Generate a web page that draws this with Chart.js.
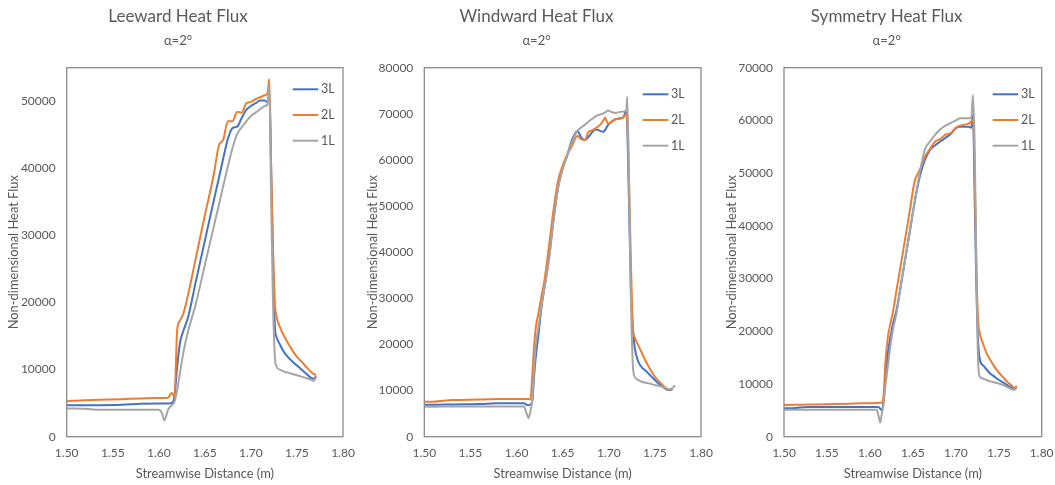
<!DOCTYPE html>
<html>
<head>
<meta charset="utf-8">
<title>Heat Flux, α=2°</title>
<script src="https://cdn.jsdelivr.net/npm/chart.js@4.4.1/dist/chart.umd.min.js"></script>
<style>
  html, body { margin: 0; padding: 0; background: #fff; }
  #wrap { position: relative; width: 1055px; height: 485px; overflow: hidden; }
  #wrap canvas { position: absolute; top: 0; }
</style>
</head>
<body>
<div id="wrap">
  <canvas id="leeward" width="372" height="485" style="left:0"></canvas>
  <canvas id="windward" width="372" height="485" style="left:350px"></canvas>
  <canvas id="symmetry" width="350" height="485" style="left:705px"></canvas>
</div>
<script>
// streamwise stations (m) and heat flux for the 3 grid levels
const leewardX = [1.500,1.520,1.535,1.560,1.580,1.600,1.604,1.606,1.610,1.614,1.617,1.620,1.623,1.627,1.632,1.640,1.650,1.660,1.665,1.670,1.675,1.680,1.685,1.690,1.695,1.700,1.705,1.710,1.715,1.718,1.720,1.722,1.724,1.726,1.728,1.732,1.736,1.740,1.745,1.750,1.755,1.760,1.765,1.768,1.771];
const leeward3L = [4700,4700,4700,4750,4900,4950,4950,4950,4950,5050,6000,10500,14000,15900,17900,23000,29200,35400,38400,41500,44400,46000,46200,47500,48700,49300,49700,50100,50100,49900,51500,40000,27000,16500,14800,13600,12600,11900,11200,10600,10000,9400,8800,8650,9000];
const leeward2L = [5300,5450,5500,5600,5700,5750,5750,5750,5800,6500,6000,16000,17300,18500,21300,26500,33000,39300,43300,44300,47000,47000,48400,48300,49700,49900,50300,50600,50900,51200,53300,40000,28000,20000,17800,16200,15000,14000,12900,11900,11200,10400,9700,9350,9200];
const leeward1L = [4200,4150,4000,4000,4000,4000,3300,2400,4000,4700,5200,7000,9500,12800,15800,19700,25600,31500,34400,37400,40300,43000,45100,46100,47000,47800,48300,48800,49300,49500,52500,35000,20000,12000,10400,9950,9700,9550,9350,9150,8950,8750,8500,8300,8900];
const leewardYTicks = [0,10000,20000,30000,40000,50000];

const windwardX = [1.500,1.510,1.530,1.560,1.580,1.600,1.608,1.611,1.613,1.615,1.617,1.619,1.621,1.624,1.627,1.630,1.635,1.640,1.645,1.650,1.655,1.660,1.666,1.670,1.674,1.678,1.682,1.686,1.690,1.694,1.696,1.699,1.703,1.707,1.712,1.716,1.719,1.720,1.722,1.724,1.726,1.728,1.732,1.736,1.740,1.745,1.750,1.755,1.760,1.765,1.769,1.772];
const windward3L = [6900,6900,7000,7100,7250,7250,7250,6900,6800,7000,7600,13000,17500,22500,28000,32000,38500,47000,54000,58200,61000,64300,66300,64900,64300,65000,66000,66600,66350,66100,66500,67500,68300,68800,69000,69300,70800,68000,50000,32000,24000,19500,16300,15000,14300,13300,12300,11300,10600,10100,10200,null];
const windward2L = [7600,7600,7950,8050,8150,8150,8150,8150,8150,8100,13000,19500,23800,27000,30500,33500,41000,49000,55500,58800,61200,63000,65200,64500,64300,66100,66400,66900,67500,68500,69200,67900,68200,68800,69000,69200,70000,69000,55000,38000,24000,21600,19800,18100,16400,14600,13000,11900,10900,10200,10400,null];
const windward1L = [6500,6500,6550,6550,6550,6550,6550,5000,4000,5500,8000,14500,20000,24000,28500,32000,38000,46500,53800,58000,61000,63800,66300,67000,67600,68300,68900,69500,69800,70100,70300,70700,70400,70200,70400,70500,70600,73700,55000,30000,16000,13000,12300,11900,11700,11500,11200,11000,10700,10300,10500,11200];
const windwardYTicks = [0,10000,20000,30000,40000,50000,60000,70000,80000];

const symmetryX = [1.500,1.510,1.527,1.560,1.590,1.608,1.610,1.612,1.614,1.616,1.618,1.621,1.624,1.627,1.631,1.636,1.641,1.646,1.652,1.658,1.664,1.670,1.676,1.682,1.688,1.694,1.700,1.705,1.710,1.715,1.718,1.720,1.722,1.724,1.726,1.728,1.732,1.736,1.740,1.745,1.750,1.755,1.760,1.765,1.768,1.771];
const symmetry3L = [5400,5400,5650,5650,5650,5650,5600,5300,5000,7000,11000,16000,19000,21500,24000,28700,33600,38500,44400,49300,52500,54400,55300,56000,56700,57400,58500,58800,58800,58800,58600,61000,45000,28000,18000,14600,13500,12700,12000,11400,10800,10300,9800,9300,9150,9300];
const symmetry2L = [6000,6050,6100,6200,6350,6400,6400,6450,6450,8000,14000,19000,21500,23800,27800,32600,37500,42400,48400,50600,53100,54600,56000,56500,57300,57600,58600,59000,59200,59400,59800,60200,50000,32000,22000,19600,17500,15800,14600,13300,12200,11300,10400,9700,9300,9600];
const symmetry1L = [5100,5100,5100,5100,5100,5100,4000,2700,4500,6300,9500,13500,17400,20500,23400,28700,33600,38500,44400,50000,54500,56000,57300,58300,59000,59500,60000,60400,60400,60400,60400,64800,55000,32000,14000,11400,11000,10750,10500,10300,10100,9800,9400,9000,8900,9300];
const symmetryYTicks = [0,10000,20000,30000,40000,50000,60000,70000];

const xTickValues = [1.50,1.55,1.60,1.65,1.70,1.75,1.80];
const subtitleText = "α=2°";

const textGrey = "#595959";
const lineColours = { "3L": "#4472C4", "2L": "#ED7D31", "1L": "#A5A5A5" };
const fontFamily = "Lato, 'Liberation Sans', sans-serif";

Chart.defaults.font.family = fontFamily;
Chart.defaults.color = textGrey;

// headings, plot frame and the little key in the upper right corner
const frameAndKey = {
  id: "frameAndKey",
  afterDraw(chart, args, opts) {
    const { ctx, chartArea: a } = chart;
    ctx.save();
    ctx.fillStyle = textGrey;
    ctx.textAlign = "center";
    ctx.textBaseline = "middle";
    ctx.font = "17px " + fontFamily;
    ctx.fillText(opts.title, opts.titleX, 17);
    ctx.font = "13px " + fontFamily;
    ctx.fillText(subtitleText, opts.titleX, 41);

    ctx.strokeStyle = "#8a8a8a";
    ctx.lineWidth = 1.3;
    ctx.strokeRect(a.left, a.top, a.right - a.left, a.bottom - a.top);

    ctx.font = "12.5px " + fontFamily;
    ctx.textAlign = "left";
    chart.data.datasets.forEach((ds, i) => {
      const y = a.top + opts.top + i * 25.7;
      const x0 = a.right - opts.right;
      ctx.strokeStyle = ds.borderColor;
      ctx.lineWidth = 2;
      ctx.beginPath();
      ctx.moveTo(x0, y);
      ctx.lineTo(x0 + 25.6, y);
      ctx.stroke();
      ctx.fillStyle = textGrey;
      ctx.fillText(ds.label, x0 + 28.3, y);
    });
    ctx.restore();
  },
};

function toPoints(xs, ys) {
  return xs.map((x, i) => ({ x: x, y: ys[i] }));
}

function makeChart(id, cfg) {
  const canvas = document.getElementById(id);
  const names = ["3L", "2L", "1L"];
  const datasets = names.map((name, i) => ({
    label: name,
    data: toPoints(cfg.xs, cfg.series[i]),
    borderColor: lineColours[name],
    borderWidth: 2,
    pointRadius: 0,
    fill: false,
    cubicInterpolationMode: "monotone",
    order: 2 - i,
  }));

  return new Chart(canvas, {
    type: "line",
    data: { datasets },
    plugins: [frameAndKey],
    options: {
      responsive: false,
      animation: false,
      layout: { padding: { left: 0, top: 67.7, bottom: 0, right: canvas.width - cfg.plotRight } },
      plugins: {
        legend: { display: false },
        tooltip: { enabled: false },
        title: { display: false },
        subtitle: { display: false },
        frameAndKey: cfg.key,
      },
      scales: {
        x: {
          type: "linear",
          min: xTickValues[0],
          max: xTickValues[xTickValues.length - 1],
          afterFit(s) { s.height = 48.3; },
          afterBuildTicks(s) { s.ticks = xTickValues.map((v) => ({ value: v })); },
          border: { display: false },
          grid: { drawOnChartArea: false, drawTicks: true, tickLength: 9.4, color: "rgba(0,0,0,0)" },
          ticks: {
            padding: 0,
            maxRotation: 0,
            autoSkip: false,
            color: textGrey,
            font: { size: 12 },
            callback: (v) => Number(v).toFixed(2),
          },
          title: {
            display: true,
            text: "Streamwise Distance (m)",
            color: textGrey,
            font: { size: 12.9 },
            padding: { top: 0, bottom: 3.6 },
          },
        },
        y: {
          min: 0,
          max: cfg.yMax,
          afterFit(s) { s.width = cfg.yWidth; },
          afterBuildTicks(s) { s.ticks = cfg.yTicks.map((v) => ({ value: v })); },
          border: { display: false },
          grid: { drawOnChartArea: false, drawTicks: true, tickLength: 11, color: "rgba(0,0,0,0)" },
          ticks: {
            padding: 0,
            color: textGrey,
            font: { size: 12 },
            callback: (v) => String(v),
          },
          title: {
            display: true,
            text: "Non-dimensional Heat Flux",
            color: textGrey,
            font: { size: 12.9 },
            padding: { top: cfg.yTitlePad, bottom: 0 },
          },
        },
      },
    },
  });
}

makeChart("leeward", {
  xs: leewardX,
  series: [leeward3L, leeward2L, leeward1L],
  yMax: 55000,
  yTicks: leewardYTicks,
  yWidth: 66.7,
  yTitlePad: 6.6,
  plotRight: 343,
  key: { title: "Leeward Heat Flux", titleX: 178, right: 50.3, top: 21.6 },
});

makeChart("windward", {
  xs: windwardX,
  series: [windward3L, windward2L, windward1L],
  yMax: 80000,
  yTicks: windwardYTicks,
  yWidth: 74.3,
  yTitlePad: 15,
  plotRight: 351,
  key: { title: "Windward Heat Flux", titleX: 186.5, right: 58.3, top: 26.6 },
});

makeChart("symmetry", {
  xs: symmetryX,
  series: [symmetry3L, symmetry2L, symmetry1L],
  yMax: 70000,
  yTicks: symmetryYTicks,
  yWidth: 79,
  yTitlePad: 19.6,
  plotRight: 336.7,
  key: { title: "Symmetry Heat Flux", titleX: 181.7, right: 49, top: 26.6 },
});
</script>
</body>
</html>
